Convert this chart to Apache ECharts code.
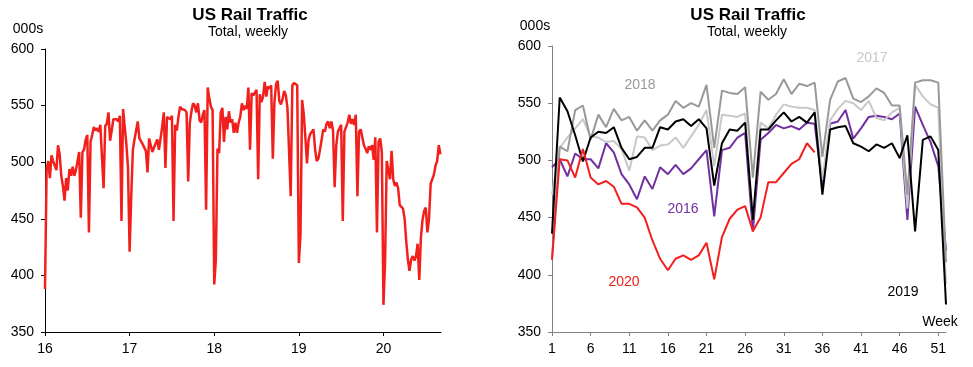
<!DOCTYPE html>
<html><head><meta charset="utf-8">
<script src="https://cdn.jsdelivr.net/npm/echarts@6/dist/echarts.min.js"></script>
<style>html,body{margin:0;padding:0;background:#fff}#c{width:973px;height:367px}</style>
</head><body><div id="c"></div>
<script>
// ---- data (weekly US rail traffic, 000s) ----
const weekCats = ["1","2","3","4","5","6","7","8","9","10","11","12","13","14","15","16","17","18","19","20","21","22","23","24","25","26","27","28","29","30","31","32","33","34","35","36","37","38","39","40","41","42","43","44","45","46","47","48","49","50","51","52"];
const leftTickLabels = ["16","17","18","19","20"];
const last2015 = 388; // final week of 2015
const rail2016 = [494,501,486,506,501,501,493,515,507,488,479,466,486,475,494,488,496,488,493,501,509,451,509,511,520,524,438,518,524,531,528,530,527,533,532,477,532,534,544,519,528,538,539,538,536,541,448,547,531,516,495,421];
const rail2017 = [470,511,520,528,536,521,520,516,517,510,491,521,520,509,513,514,520,511,521,531,544,495,540,539,538,541,448,533,528,540,549,547,546,546,544,483,535,545,552,550,544,552,537,535,542,546,458,566,556,549,546,392];
const rail2018 = [414,512,508,544,548,518,540,529,545,535,538,526,535,526,535,540,552,546,550,547,566,511,561,559,558,564,485,560,553,558,571,558,567,565,568,503,553,569,572,554,551,556,563,559,548,548,470,568,570,570,568,411];
const rail2019 = [436,555,543,522,499,520,525,524,529,511,501,503,511,511,529,527,534,536,530,536,528,478,515,527,526,533,448,527,527,535,542,534,538,533,542,470,527,529,530,515,512,508,514,511,515,502,522,438,518,521,509,374];
const rail2020 = [413,501,500,485,510,485,479,482,477,462,462,459,450,430,414,404,414,417,413,417,428,396,433,449,457,460,438,450,481,481,489,497,501,515,507];
const yearNames = ["2016","2017","2018","2019","2020"];

// ---- build left (continuous) series: x = year (2-digit) + week/52 ----
const years = [[16, rail2016],[17, rail2017],[18, rail2018],[19, rail2019],[20, rail2020]];
const leftData = [[16, last2015]];
years.forEach(([yy, arr]) => arr.forEach((v, i) => leftData.push([yy + (i + 1) / 52, v])));

const FF = '"Liberation Sans", Arial, sans-serif';
const RED = '#f2201c';
const colors = ['#7030a0', '#c8c8c8', '#999999', '#000000', RED];

const chart = echarts.init(document.getElementById('c'), null, {renderer: 'canvas'});
const axisLbl = {color: '#000', fontSize: 14, fontFamily: FF};

chart.setOption({
  animation: false,
  backgroundColor: '#fff',
  grid: [
    {left: 45, top: 49, width: 396, height: 283},
    {left: 552, top: 46, width: 394, height: 286}
  ],
  xAxis: [
    {type: 'value', gridIndex: 0, min: 16, max: 20.68, interval: 1,
     axisLine: {lineStyle: {color: '#000', width: 1}},
     axisTick: {show: true, length: 4, lineStyle: {color: '#000'}},
     splitLine: {show: false},
     axisLabel: Object.assign({margin: 10, showMaxLabel: false,
       formatter: v => { const k = Math.round(v) - 16; return Math.abs(v - Math.round(v)) < 1e-6 && leftTickLabels[k] ? leftTickLabels[k] : ''; }}, axisLbl)},
    {type: 'category', gridIndex: 1, data: weekCats, boundaryGap: false,
     axisLine: {lineStyle: {color: '#808080', width: 1}},
     axisTick: {show: true, interval: 4, length: 4, lineStyle: {color: '#808080'}},
     axisLabel: Object.assign({margin: 10, interval: 4}, axisLbl)}
  ],
  yAxis: [
    {type: 'value', gridIndex: 0, min: 350, max: 600, interval: 50,
     axisLine: {show: true, lineStyle: {color: '#000', width: 1}},
     axisTick: {show: true, length: 4, lineStyle: {color: '#000'}},
     splitLine: {show: false},
     axisLabel: Object.assign({margin: 11}, axisLbl)},
    {type: 'value', gridIndex: 1, min: 350, max: 600, interval: 50,
     axisLine: {show: true, lineStyle: {color: '#808080', width: 1}},
     axisTick: {show: true, length: 4, lineStyle: {color: '#808080'}},
     splitLine: {show: false},
     axisLabel: Object.assign({margin: 11}, axisLbl)}
  ],
  series: [
    {type: 'line', xAxisIndex: 0, yAxisIndex: 0, data: leftData, symbol: 'none',
     lineStyle: {color: RED, width: 2.5}},
  ].concat([rail2016, rail2017, rail2018, rail2019, rail2020].map((arr, i) => ({
     type: 'line', name: yearNames[i], xAxisIndex: 1, yAxisIndex: 1, data: arr, symbol: 'none',
     z: 2 + i, lineStyle: {color: colors[i], width: 2}
  }))),
  graphic: [
    {type: 'text', style: {text: 'US Rail Traffic', x: 250, y: 15, align: 'center', verticalAlign: 'middle', font: 'bold 17px ' + FF, fill: '#000'}},
    {type: 'text', style: {text: 'Total, weekly', x: 248, y: 32, align: 'center', verticalAlign: 'middle', font: '14px ' + FF, fill: '#000'}},
    {type: 'text', style: {text: '000s', x: 28, y: 29, align: 'center', verticalAlign: 'middle', font: '14px ' + FF, fill: '#000'}},
    {type: 'text', style: {text: 'US Rail Traffic', x: 748, y: 15, align: 'center', verticalAlign: 'middle', font: 'bold 17px ' + FF, fill: '#000'}},
    {type: 'text', style: {text: 'Total, weekly', x: 747, y: 32, align: 'center', verticalAlign: 'middle', font: '14px ' + FF, fill: '#000'}},
    {type: 'text', style: {text: '000s', x: 535, y: 26, align: 'center', verticalAlign: 'middle', font: '14px ' + FF, fill: '#000'}},
    {type: 'text', style: {text: '2018', x: 640, y: 85, align: 'center', verticalAlign: 'middle', font: '14px ' + FF, fill: '#999999'}},
    {type: 'text', style: {text: '2017', x: 872, y: 58, align: 'center', verticalAlign: 'middle', font: '14px ' + FF, fill: '#c8c8c8'}},
    {type: 'text', style: {text: '2016', x: 683, y: 209, align: 'center', verticalAlign: 'middle', font: '14px ' + FF, fill: '#7030a0'}},
    {type: 'text', style: {text: '2020', x: 624, y: 282, align: 'center', verticalAlign: 'middle', font: '14px ' + FF, fill: RED}},
    {type: 'text', style: {text: '2019', x: 903, y: 292, align: 'center', verticalAlign: 'middle', font: '14px ' + FF, fill: '#000'}},
    {type: 'text', style: {text: 'Week', x: 940, y: 322, align: 'center', verticalAlign: 'middle', font: '14px ' + FF, fill: '#000'}}
  ]
});
</script></body></html>
